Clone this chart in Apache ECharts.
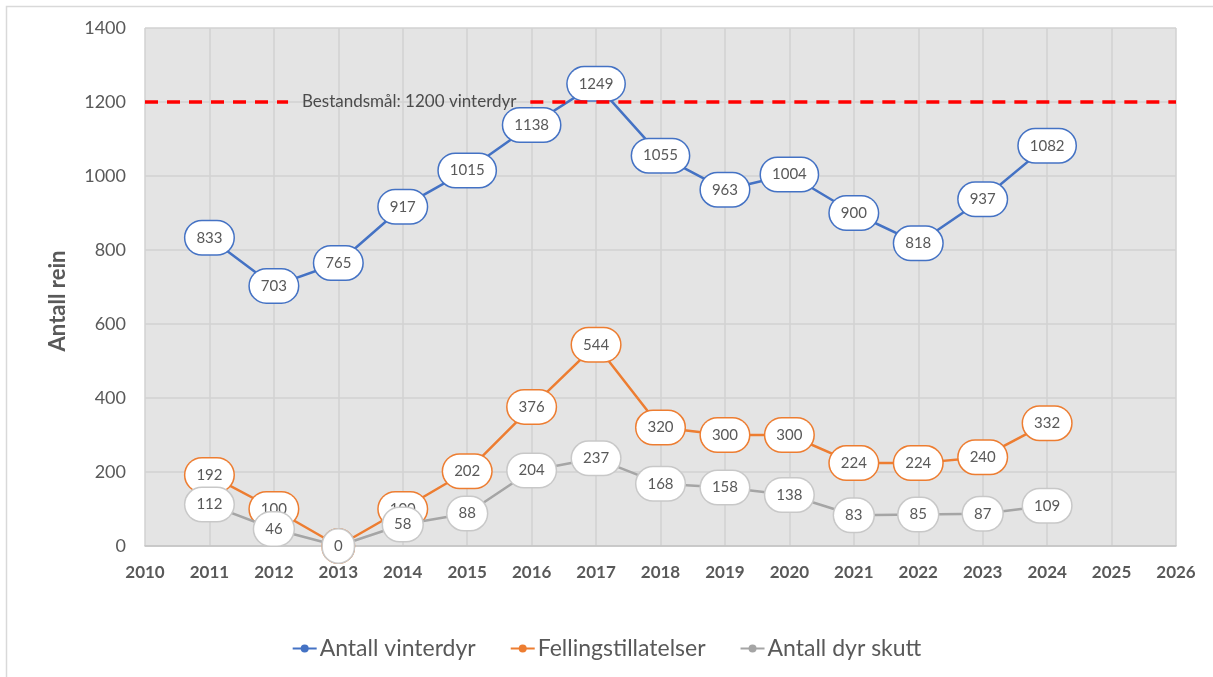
<!DOCTYPE html>
<html>
<head>
<meta charset="utf-8">
<script src="https://cdn.jsdelivr.net/npm/echarts@6/dist/echarts.min.js"></script>
<style>
html,body{margin:0;padding:0;background:#fff;}
#chart{width:1213px;height:677px;}
</style>
</head>
<body>
<div id="chart"></div>
<script>
const years = [2011, 2012, 2013, 2014, 2015, 2016, 2017, 2018, 2019, 2020, 2021, 2022, 2023, 2024];
const vinterdyr = [833, 703, 765, 917, 1015, 1138, 1249, 1055, 963, 1004, 900, 818, 937, 1082];
const felling = [192, 100, 0, 100, 202, 376, 544, 320, 300, 300, 224, 224, 240, 332];
const skutt = [112, 46, 0, 58, 88, 204, 237, 168, 158, 138, 83, 85, 87, 109];
const seriesNames = ['Antall vinterdyr', 'Fellingstillatelser', 'Antall dyr skutt'];
const yAxisTitle = 'Antall rein';
const targetValue = 1200;
const targetText = 'Bestandsmål: 1200 vinterdyr';

// layout of the target line (text box interrupts the dashed line)
const X_MIN = 2010, X_MAX = 2026;
const targetTextX = 2014.1;
const gapStart = 2012.22, gapEnd = 2015.98;

const FONT = 'Lato, "Open Sans", sans-serif';
const pairs = vals => years.map((y, i) => [y, vals[i]]);

function lineSeries(name, vals, color, labelBorder, z) {
  return {
    name: name,
    type: 'line',
    data: pairs(vals),
    z: z,
    symbol: 'circle',
    symbolSize: 7,
    lineStyle: { color: color, width: 2.5 },
    itemStyle: { color: color },
    label: {
      show: true,
      position: 'inside',
      formatter: p => String(p.value[1]),
      color: '#595959',
      fontFamily: FONT,
      fontSize: 15,
      backgroundColor: '#ffffff',
      borderColor: labelBorder,
      borderWidth: 1.5,
      borderRadius: 18,
      padding: [9, 11]
    },
    emphasis: { disabled: true },
    animation: false
  };
}

const chart = echarts.init(document.getElementById('chart'), null, { renderer: 'canvas' });
chart.setOption({
  backgroundColor: '#ffffff',
  animation: false,
  graphic: [{
    type: 'rect',
    shape: { x: 6.5, y: 6.5, width: 1400, height: 900 },
    style: { fill: 'none', stroke: '#d9d9d9', lineWidth: 1.5 },
    silent: true,
    z: -10
  }, {
    type: 'text',
    x: 58, y: 301,
    rotation: Math.PI / 2,
    style: {
      text: yAxisTitle,
      fill: '#595959',
      font: 'bold 22px ' + FONT,
      textAlign: 'center',
      textVerticalAlign: 'middle'
    },
    silent: true
  }],
  grid: {
    left: 145, right: 37, top: 28, bottom: 131,
    show: true, backgroundColor: '#e4e4e4', borderWidth: 0
  },
  legend: {
    data: seriesNames,
    bottom: 12,
    left: 'center',
    itemGap: 34,
    itemWidth: 24,
    itemHeight: 10,
    textStyle: { color: '#595959', fontSize: 23, fontFamily: FONT, padding: [0, 0, 0, -2] }
  },
  xAxis: {
    type: 'value',
    min: X_MIN, max: X_MAX, interval: 1,
    axisLine: { show: true, lineStyle: { color: '#c4c4c4', width: 1.5 } },
    axisTick: { show: false },
    splitLine: { show: true, lineStyle: { color: '#d2d2d2', width: 1.5 } },
    axisLabel: {
      formatter: v => String(v),
      color: '#595959', fontSize: 17, fontWeight: 'bold', fontFamily: FONT, margin: 18
    }
  },
  yAxis: {
    type: 'value',
    min: 0, max: 1400, interval: 200,
    axisLine: { show: false },
    axisTick: { show: false },
    splitLine: { show: true, lineStyle: { color: '#d2d2d2', width: 1.5 } },
    axisLabel: {
      formatter: v => String(v),
      color: '#595959', fontSize: 18, fontFamily: FONT, margin: 19
    }
  },
  series: [
    lineSeries(seriesNames[0], vinterdyr, '#4472c4', '#4472c4', 2),
    lineSeries(seriesNames[1], felling, '#ed7d31', '#ed7d31', 3),
    lineSeries(seriesNames[2], skutt, '#a5a5a5', '#c8c8c8', 4),
    {
      name: 'target',
      type: 'line',
      data: [],
      z: 5,
      markLine: {
        silent: true,
        symbol: ['none', 'none'],
        lineStyle: { color: '#ff0000', width: 3.5, type: [13, 9] },
        label: { show: false },
        data: [
          [{ coord: [X_MIN, targetValue] }, { coord: [gapStart, targetValue] }],
          [{ coord: [gapEnd, targetValue] }, { coord: [X_MAX, targetValue] }]
        ],
        animation: false
      },
      animation: false
    },
    {
      name: 'targetText',
      type: 'scatter',
      data: [[targetTextX, targetValue]],
      symbolSize: 2,
      itemStyle: { color: 'rgba(0,0,0,0)' },
      z: 20,
      label: {
        show: true,
        position: 'inside',
        formatter: () => targetText,
        color: '#262626',
        fontSize: 17,
        fontFamily: FONT
      },
      emphasis: { disabled: true },
      animation: false
    }
  ]
});
</script>
</body>
</html>
